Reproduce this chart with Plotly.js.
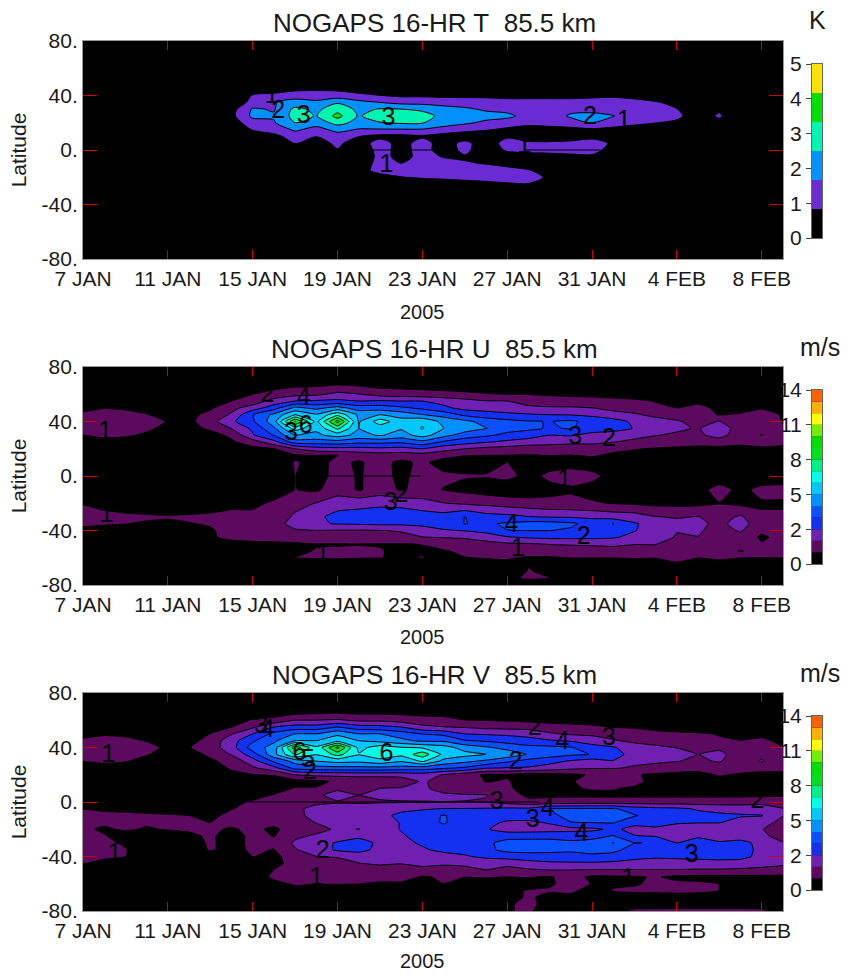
<!DOCTYPE html>
<html>
<head>
<meta charset="utf-8">
<script src="https://cdn.plot.ly/plotly-3.0.1.min.js"></script>
<style>html,body{margin:0;padding:0;background:#fff}</style>
</head>
<body>
<div id="chart" style="width:849px;height:974px"></div>
<script>
// Day of January for every column (32 = 1 Feb)
const days = [7,8,9,10,11,12,13, 14,15,16,17,18,19,20, 21,22,23,24,25,26,27, 28,29,30,31,32,33,34, 35,36,37,38,39,40];
const dayTicks = [7,11,15,19,23,27,31,35,39];
const dayLabels = ['7 JAN','11 JAN','15 JAN','19 JAN','23 JAN','27 JAN','31 JAN','4 FEB','8 FEB'];
const latTicks = [-80,-40,0,40,80];
const latLabels = ['-80.','-40.','0.','40.','80.'];

const titleT = 'NOGAPS 16-HR T\u00A0\u00A085.5 km';
const titleU = 'NOGAPS 16-HR U\u00A0\u00A085.5 km';
const titleV = 'NOGAPS 16-HR V\u00A0\u00A085.5 km';

const coloursT = ['#000000','#6a2bd2','#0090ff','#00f5b0','#00e000','#ffe000'];
const coloursW = ['#000000','#5c0a5e','#7020b0','#1430f0','#0a50ff','#0090ff','#00c8ff','#00ffe8','#00f088','#00e020','#00e000','#70f000','#ffff00','#ffb000','#ff6000'];
const barTicksT = [0,1,2,3,4,5];
const barLabelsT = ['0','1','2','3','4','5'];
const barTicksW = [0,2.8,5.6,8.4,11.2,14];
const barLabelsW = ['0','2','5','8','11','14'];

// ---------- Temperature amplitude (K)
const latT = [80,50,45,40,35,30,25,20,15,10,5,0,-5,-10,-15,-20,-25,-30,-80];
const rowsT = [
[0,0,0,0,0,0,0, 0,0,0,0,0,0,0, 0,0,0,0,0,0,0, 0,0,0,0,0,0,0, 0,0,0,0,0,0],
[0,0,0,0,0,0,0, 0,0,0,0,0,0,0, 0,0,0,0,0,0,0, 0,0,0,0,0,0,0, 0,0,0,0,0,0],
[0,0,0,0,0,0,0, 0,.3,.5,.6,.7,.65,.5, .4,.3,.3,.2,.2,.2,.2, .2,.2,.2,.2,.2,.1,.1, 0,0,0,0,0,0],
[0,0,0,0,0,0,0, .1,.9,1,1.3,1.2,1.2,1, .85,.7,.7,.65,.65,.65,.6, .6,.6,.6,.65,.7,.55,.4, .2,0,0,0,0,0],
[0,0,0,0,0,0,0, .2,1.1,1.6,2,1.85,2.4,1.9, 1.65,1.4,1.4,1.3,1.25,1.2,1.1, 1.1,1.1,1.1,1.15,1.2,1.1,.9, .6,.2,0,0,0,0],
[0,0,0,0,0,0,0, .5,1.75,1.6,2.7,2.3,3,2.3, 2.55,2.5,2.3,2,1.8,1.55,1.35, 1.2,1.15,1.4,1.4,1.3,1.15,1.05, .85,.3,.7,0,0,0],
[0,0,0,0,0,0,0, .6,1.85,1.75,2.8,2.45,3.6,2.4, 3,3,2.9,2.2,2.05,1.95,1.9, 1.3,1.2,1.8,1.9,1.7,1.15,1.1, 1,.4,.95,0,0,0],
[0,0,0,0,0,0,0, .4,1.3,1.6,2.5,2,2.8,2.2, 2.45,2.6,2.55,2.1,1.8,1.5,1.2, 1,1.1,1.3,1.7,1.25,1,.85, .7,.3,.6,0,0,0],
[0,0,0,0,0,0,0, .1,.9,1.2,1.8,1.4,1.9,1.6, 1.6,1.6,1.6,1.3,1.1,.9,.7, .6,.6,.6,.7,.6,.5,.4, .2,0,0,0,0,0],
[0,0,0,0,0,0,0, 0,.3,.6,1.2,.85,1.3,.85, .6,.6,.7,.5,.3,.3,.7, .3,.3,.3,.6,.8,.2,0, 0,0,0,0,0,0],
[0,0,0,0,0,0,0, 0,0,.2,.9,.5,1,.4, 1.2,.5,1.2,.4,1.1,.3,1.2, 1,1,1.1,1.2,.7,0,0, 0,0,0,0,0,0],
[0,0,0,0,0,0,0, 0,0,0,.2,.1,.8,.1, 1.2,.5,1.2,.4,1.05,.3,.95, 1,1,1.1,1.2,.4,0,0, 0,0,0,0,0,0],
[0,0,0,0,0,0,0, 0,0,0,0,0,0,.1, 1.1,.6,1.05,.8,.75,.2,.4, .6,.65,.65,.65,.2,0,0, 0,0,0,0,0,0],
[0,0,0,0,0,0,0, 0,0,0,0,0,0,.2, 1.2,.85,1.2,1.1,.9,.8,.6, .4,.2,0,0,0,0,0, 0,0,0,0,0,0],
[0,0,0,0,0,0,0, 0,0,0,0,0,0,.4, 1.2,1.2,1.3,1.3,1.3,1.25,1.1, .9,.4,0,0,0,0,0, 0,0,0,0,0,0],
[0,0,0,0,0,0,0, 0,0,0,0,0,0,.1, .4,.8,.95,1.05,1.1,1.2,1.2, 1.15,.7,0,0,0,0,0, 0,0,0,0,0,0],
[0,0,0,0,0,0,0, 0,0,0,0,0,0,0, 0,.1,.2,.3,.5,.6,.75, .8,.3,0,0,0,0,0, 0,0,0,0,0,0],
[0,0,0,0,0,0,0, 0,0,0,0,0,0,0, 0,0,0,0,0,0,0, 0,0,0,0,0,0,0, 0,0,0,0,0,0],
[0,0,0,0,0,0,0, 0,0,0,0,0,0,0, 0,0,0,0,0,0,0, 0,0,0,0,0,0,0, 0,0,0,0,0,0]
];
const labelDaysT = [15.9,16.2,17.4,21.4,30.9,32.5,21.3,27.8];
const labelLatsT = [39.4,28.4,24.7,22.7,23.5,21,-11.2,2.7];
const labelTextT = ['1','2','3','3','2','1','1','1'];
const seamDaysT = [20.6,23.7,null,27.8,31.4];
const seamLatsT = [0,0,null,0,0];

// ---------- Zonal wind amplitude (m/s)
const latU = [80,70,60,55,50,45,40,35,30,25,20,15,10,0,-10,-20,-30,-35,-40,-45,-50,-55,-60,-70,-75,-80];
const rowsU = [
[0,0,0,0,0,0,0, 0,0,0,0,0,0,0, 0,0,0,0,0,0,0, 0,0,0,0,0,0,0, 0,0,0,0,0,0],
[0,0,0,0,0,0,0, .1,.2,.2,.3,.35,.4,.3, .2,.2,.2,.2,.2,.1,.1, .1,.1,.1,.1,.1,.1,.1, .1,.1,.1,.1,.1,.1],
[0,0,0,0,0,0,0, .6,.93,1.3,1.6,1.7,2.1,1.9, 1.5,1.4,1.3,1.2,1.1,1,.93, .9,.8,.7,.7,.6,.5,.3, .2,.2,.2,.2,.2,.2],
[0,0,0,0,0,0,.5, .93,1.3,2.2,2.8,2.9,3,2.8, 2.9,2.8,2.8,2.5,2.2,1.9,1.87, 1.6,1.45,1.4,1.3,1.2,1.1,.9, .7,.8,.6,.5,.5,.4],
[.7,.9,.8,.4,.1,.3,.8, 1.6,2.3,3.3,4.9,4.4,5,4.2, 4.2,3.9,3.5,3,2.5,2.4,2.3, 2,1.95,1.95,1.87,1.6,1.4,1.1, .93,1.1,.8,.7,.9,.5],
[1.1,1.25,1.25,1,.5,.7,1.2, 2,3.7,4.9,6.5,5.7,7.2,5.4, 5.6,5.2,4.7,4.3,3.5,3.2,3, 2.9,2.8,2.75,2.6,2.2,2,1.6, 1.5,1.2,.9,1,1.1,.9],
[1.1,1.25,1.3,1.2,.9,.7,1.5, 2.6,3.6,5.2,9.4,6.2,9.7,5.5, 7,6,6.4,5.3,4.9,4.3,4, 3.8,3.7,3.9,3.4,3.2,2.6,2.3, 1.95,1.6,1.9,1.3,1.3,.9],
[1.1,1.3,1.3,1.1,.7,.6,1.1, 1.9,3,4.5,7,5.8,7.7,5.6, 6,5.7,6.6,5.6,5.2,4.7,4.1, 3.9,3.65,3.8,3.3,3.2,2.75,2.3, 2,1.8,2.4,1.4,1.3,1],
[.93,1.1,1.05,.8,.4,.4,.6, 1.1,2.7,3.8,5.6,5.4,6,5.3, 5.7,5.2,6,5,4.2,3.9,3.5, 3.3,2.8,2.9,2.5,2.3,2.15,1.9, 1.75,1.7,2.2,1.3,1.9,1.2],
[.5,.7,.6,.4,.3,.3,.4, .8,1.4,2.5,4.2,4.2,4.3,4, 4,3.9,4.4,3.6,3.2,2.9,2.6, 2.3,2.2,2.1,2.1,1.9,1.65,1.5, 1.3,1.2,1.4,1.1,1.3,1.1],
[.2,.2,.2,.2,.2,.2,.2, .4,.7,.9,1.87,2.4,2.5,2.5, 2.6,2.5,2.8,2.2,1.87,1.6,1.5, 1.4,1.4,1.3,1.3,1.1,1,.85, .8,.75,.7,.75,.8,.8],
[.1,.1,.1,.1,.1,.1,.1, .2,.3,.4,.8,.9,.93,1.2, 1.4,1.3,1.4,1.2,.95,.9,.9, .85,.93,.9,1,.8,.6,.5, .5,.5,.5,.5,.5,.5],
[0,0,0,0,0,0,0, 0,.1,.3,1,.7,1.1,.85, 1.2,.75,1.1,.6,.6,.6,.95, .5,.6,.7,.6,.4,.2,.1, .1,.1,.1,.1,.1,.1],
[.2,.2,.2,.2,.2,.2,.2, .2,.2,.3,.95,.5,1.3,.85, 1.3,.7,1.3,1.1,1,1,1.15, .7,1.1,1.2,1.1,.7,.3,.2, .2,.2,.1,.2,.1,.3],
[.4,.3,.2,.2,.2,.2,.2, .3,.3,.4,.95,.8,1.4,.85, 1.3,.85,1.2,.9,.7,.5,.4, .4,.7,.85,.7,.4,.3,.3, .4,.5,1.4,.6,1.3,1.3],
[.9,.7,.5,.4,.4,.4,.5, .7,.7,1.1,1.6,1.9,2.4,2.5, 2.6,2.5,2.2,1.9,1.7,1.6,1.4, 1.3,1.15,1.1,1,.9,.8,.7, .7,.7,.9,.7,.8,.8],
[1.2,1.15,1.1,1.05,1,1.05,1.1, 1.2,1.2,1.4,2,2.6,3.1,3.2, 3.3,3.4,3.3,3.2,3.75,3.2,3.1, 2.85,2.75,2.7,2.6,2.4,2.3,1.9, 1.8,1.9,1.5,2,1.1,1.1],
[1.05,1,.95,.85,.8,.9,1, 1.3,1.4,1.6,2.1,2.7,2.85,2.9, 3,3,3.2,3.3,3.75,3.6,3.85, 4.1,4.1,3.9,3.4,3.75,2.9,2.4, 2.1,2.1,1.6,2.3,1.2,1.2],
[.8,.7,.6,.5,.5,.7,.85, 1.2,1.3,1.5,1.8,1.85,1.8,1.8, 1.85,1.9,2.1,2.7,2.85,3.15,3.72, 3.75,3.75,3.6,3.3,3.3,2.85,2.3, 1.9,1.95,1.6,1.95,1.1,1.1],
[.4,.4,.4,.4,.5,.6,.85, 1.1,1.2,1.3,1.5,1.6,1.6,1.7, 1.7,1.75,1.85,1.9,1.95,2.2,2.7, 2.9,3,3,3,2.9,2.5,2.2, 1.8,1.85,1.6,1.5,.8,1.2],
[.3,.3,.3,.3,.3,.35,.4, .7,.75,.75,.8,.9,.9,.92, .9,.9,.95,1.3,1.5,1.6,1.7, 1.75,1.9,1.95,2,2.05,1.9,1.9, 1.3,1.75,1.4,1.2,1,1.2],
[.1,.1,.1,.1,.1,.1,.1, .2,.4,.7,.8,.97,1,1, .97,.8,.85,.85,1.15,1.3,1.35, 1.35,1.4,1.4,1.45,1.5,1.45,1.5, 1.15,1.3,1.3,1.95,1.3,1.3],
[0,0,0,0,0,0,0, .1,.2,.94,.95,1,1,.97, .95,.85,.97,.6,.9,1,1, .85,.85,.95,.95,.95,1,.97, .95,.95,1.1,.95,.93,.95],
[0,0,0,0,0,0,0, 0,0,.1,0,0,0,0, 0,0,0,0,0,0,.5, .97,.8,0,0,0,0,0, .9,0,0,0,0,0],
[.1,.1,.1,.1,.1,.1,.1, .1,.1,.95,.1,.1,.1,.1, .1,.1,.1,.1,.1,.1,.7, 1.1,.95,.4,.1,.1,.98,.1, .97,.1,.1,.1,.1,.1],
[0,0,0,0,0,0,0, 0,0,0,0,0,0,0, 0,0,0,0,0,0,0, 0,0,0,0,0,0,0, 0,0,0,0,0,0]
];
const labelDaysU = [8.05,15.7,17.4,16.8,17.5,30.2,31.8,21.5,22,27.2,30.6,8.1,18.3,27.5,29.7];
const labelLatsU = [31.8,58.7,56.7,31.3,35.9,28.1,26.4,-20,-14.7,-36.7,-45.2,-29.3,-58.7,-53.8,-3.7];
const labelTextU = ['1','2','4','3','6','3','2','3','2','4','2','1','1','1','1'];
const seamDaysU = [18.5,22.9];
const seamLatsU = [0,0];

// ---------- Meridional wind amplitude (m/s)
const latV = [80,75,70,65,60,55,50,45,40,35,30,25,20,15,10,5,0,-5,-10,-15,-20,-25,-30,-35,-40,-45,-50,-55,-60,-65,-70,-75,-80];
const rowsV = [
[0,0,0,0,0,0,0, 0,0,0,0,0,0,0, 0,0,0,0,0,0,0, 0,0,0,0,0,0,0, 0,0,0,0,0,0],
[0,0,0,0,0,0,0, 0,0,0,0,0,0,0, 0,0,0,0,0,0,0, 0,0,0,0,0,0,0, 0,0,0,0,0,0],
[0,0,0,0,0,0,0, 0,.1,.1,.2,.3,.4,.3, .2,.2,.2,.2,.1,.1,.1, 0,0,0,0,0,0,0, 0,0,0,0,0,0],
[0,0,0,0,0,0,0, .2,.5,.6,.8,.9,.97,.85, .85,.8,.7,.7,.6,.6,.5, .5,.4,.3,.3,.3,.2,.2, .2,.1,.1,.1,.1,.1],
[0,0,0,0,0,0,0, .6,1,1.2,1.87,1.87,2,1.7, 1.7,1.5,1.3,1.2,.95,.9,.85, .75,.65,.6,.55,.5,.45,.4, .3,.3,.3,.3,.3,.3],
[0,0,0,0,0,.1,.5, .93,1.7,2.8,3.2,3.2,3.73,3.2, 3.1,2.8,2.1,1.9,1.8,1.6,1.55, 1.5,1.3,1.2,1.1,.9,.85,.75, .65,.6,.5,.4,.4,.3],
[.7,.85,.8,.5,.3,.5,.95, 1.8,2.8,4,4.67,4.67,5.4,4.67, 4.67,4.2,3.7,3.5,2.8,2.7,2.6, 2.5,2,1.75,1.7,1.5,1.35,1.1, 1.05,1,.9,.7,.85,.6],
[1.05,1.2,1.1,.9,.5,.6,1.3, 2.4,3.6,4.5,5.6,5.6,6.2,5.6, 5.3,4.9,4.5,4.5,3.8,3.6,3.4, 3.1,2.9,2.7,2.3,1.95,1.7,1.6, 1.4,1.3,1,.95,1,.85],
[1.15,1.35,1.3,1.15,.8,.9,1.4, 2.4,4.2,5,9,6.7,9.6,6.2, 7,6.6,6.4,6,5.2,4.8,4.3, 4,3.95,3.8,3.2,2.9,2.2,2, 1.85,1.85,1.7,1.1,1.2,.95],
[1.05,1.25,1.2,1,.6,.6,1.1, 1.95,3.3,5.3,7.6,6.6,7.8,6.6, 7.2,6.8,8,6.3,5.9,5.6,5.3, 4.6,4.2,3.9,3.7,3.2,2.4,2, 2.1,1.85,2.1,1.4,1.7,1.1],
[.95,1.1,1,.6,.3,.3,.8, 1.2,2.4,3.9,5,5.6,5.9,5.8, 6.2,5.7,6.7,5.3,4.9,4.5,3.9, 3.4,3.1,2.7,2.4,2.75,2.1,2, 1.9,1.7,1.95,1.3,1.95,1.05],
[.5,.6,.5,.3,.2,.2,.5, 1.05,1.7,2.5,4.1,4.3,4.4,4.4, 4.4,4.3,4.2,3.9,3.6,2.9,2.75, 2.7,2.4,2.1,1.95,1.95,1.75,1.6, 1.35,1.2,1.4,1.2,1.1,1.05],
[.1,.1,.1,.1,.1,.1,.2, .7,.9,1,1.87,2.1,2.1,2.2, 2.2,2.2,2.4,1.8,1.3,.8,.85, .5,.6,.8,1,1.05,1,.8, .7,.7,1,.85,.8,.85],
[0,0,0,0,0,0,.1, .4,.4,.5,.6,.7,1.1,1.1, 1.1,1.3,2,1.5,1.35,.9,1, .6,.5,.85,1.3,1.35,1.2,.6, .5,.5,.7,.5,.6,.6],
[0,0,0,0,0,0,0, 0,.2,.5,1,1,1.7,1.4, 1.87,1.95,2.1,1.4,1.3,1.3,1.1, .5,.4,.85,1,1,.8,.5, .4,.4,.4,.4,.4,.4],
[0,0,0,0,0,0,.1, .2,.6,1,1.4,1.7,2.2,1.87, 2,2.2,2.3,2.1,1.95,1.9,1.4, .75,.75,.75,.75,.75,.75,.75, .75,.75,.75,.75,.75,.8],
[.1,.2,.2,.2,.2,.2,.2, .7,1.05,1.3,1.5,1.7,1.8,1.75, 1.8,1.8,1.8,1.85,1.85,1.8,1.5, 1.2,1.3,1.4,1.4,1.4,1.4,1.4, 1.4,1.4,1.4,1.45,1.6,1.5],
[.93,.8,.7,.6,.5,.4,.3, .9,1.2,1.4,1.7,2.1,2.2,2.3, 2.3,2.6,2.7,2.85,2.85,2.9,3, 3,3.75,3.8,3.85,3.85,3.3,3.1, 3,2.7,2.5,2.4,2.3,1.9],
[1.1,1.15,1.15,1.1,1.05,.95,.7, 1.2,1.3,1.5,1.75,2,2.1,2.3, 2.55,3,3.3,3.8,3.3,3.2,3.3, 3.3,3.6,3.9,4.1,4.2,3.8,3.4, 3.2,3.1,3,2.9,2.85,1.9],
[1.05,1.1,1.05,1.05,1,.98,.93, 1.15,1.15,1.15,1.5,1.9,2,2.2, 2.4,2.85,3.2,3.85,3.1,3.1,2.65, 2.6,2.9,3.72,3.75,3.8,3.1,3, 2.9,2.85,2.85,2.4,2.2,1.6],
[1.1,.8,1.05,.85,1,1.1,1.05, .85,1.1,.8,1.3,1.6,2,1.85, 2.3,2.85,3.2,3.3,3,2.9,2.3, 2.3,2.4,2.5,2.6,3,2.5,2.7, 2.4,2.2,2.1,2,1.9,1.5],
[1.2,1,.5,.4,.4,.7,1.1, .5,1.2,.9,1.7,2,2.2,2.5, 2.6,2.7,3.1,3.1,3.2,3.1,3.5, 3.5,3.5,3.4,3.4,3.8,2.85,2.75, 2.5,2.7,2.6,2.5,2.2,1.3],
[1.3,1.15,.8,.4,.3,.4,1.1, .5,1.2,1.2,2,2.4,2.9,3.4, 2.5,2.6,2.9,3.4,3.5,3.6,3.95, 4,4,3.9,4.1,4.7,3.75,3.7, 2.8,3.1,2.85,3,2.6,1.95],
[1.4,1.25,1,.3,.2,.2,1.05, .6,1.1,.9,1.8,2.3,2.95,3.2, 2.45,2.6,2.7,3,3.1,3.5,4, 4,3.9,3.85,3.95,3.95,3.4,3, 3.05,3.2,3.2,3.1,2.6,2.1],
[1.25,1.15,.95,.2,.1,.1,.3, .5,.95,.8,1.2,1.85,1.95,2.1, 2.2,2.3,2.2,2.5,2.7,3,3.2, 3.4,3.5,3.5,3.6,3.4,3,2.9, 2.95,3,3.1,3.1,2.5,2.2],
[1,.6,.3,.1,.1,.1,.1, .3,.5,.8,1.1,1.3,1.5,1.85, 2,1.9,2.1,2,2.05,2.2,2.1, 2.4,2.6,2.65,2.65,2.6,2.55,2.5, 2.5,2.5,2.5,2.4,2.1,2],
[.3,.1,.1,.1,.1,.1,.1, .1,.4,.95,1.15,1.3,1.4,1.5, 1.45,1.5,1.6,1.5,1.6,1.85,1.6, 1.75,1.85,1.85,1.8,1.8,1.8,1.8, 1.8,1.75,1.75,1.7,1.7,1.6],
[0,0,0,0,0,0,0, .1,.5,1.1,1.35,1.3,1.3,1.3, 1.3,1.3,.85,1.05,.95,1,.93, 1,.85,1.3,.75,.8,.85,1, .75,.7,.7,.7,.7,.7],
[0,0,0,0,0,0,0, 0,.1,.7,1.05,.97,1,.95, .8,.8,.4,.93,.6,.6,.5, .5,.8,1.3,.9,.8,.85,1.1, 1.1,1.05,.93,.4,.3,.3],
[0,0,0,0,0,0,0, 0,0,.1,.6,.4,.3,.3, .2,.2,.1,.1,.1,.1,.7, 1,1.05,1.2,.4,1,1.1,1.15, 1.2,1.15,.93,.3,.2,.2],
[0,0,0,0,0,0,0, 0,0,0,0,0,0,0, 0,0,0,0,0,0,.5, 1.1,.6,.6,.3,.5,.5,.5, .5,.5,.4,.2,.1,.1],
[0,0,0,0,0,0,0, 0,0,0,0,0,0,0, 0,0,0,0,0,0,.85, 1.1,.7,.3,.2,.3,.5,.5, .5,.5,.5,.5,.5,.4],
[0,0,0,0,0,0,0, 0,0,0,0,0,0,0, 0,0,0,0,0,0,.9, 1,.7,.2,.2,.7,1.1,1.15, 1.2,1.2,1.2,1.2,1.1,.6]
];
const labelDaysV = [8.2,15.4,15.7,17.2,17.6,17.7,21.3,28.3,29.6,31.8,27.4,26.5,38.8,28.9,28.2,30.5,18.3,35.7,8.5,18,32.7];
const labelLatsV = [33.6,55.6,52.5,35.3,30.4,21.3,34.8,53.9,43.4,46.3,28.7,-0.7,0.5,-5.6,-13.5,-24,-36.8,-39.2,-38.7,-56.4,-57];
const labelTextV = ['1','3','4','6','5','2','6','2','4','3','2','3','2','4','3','4','2','3','1','1','1'];
const seamDaysV = [14.8,28.5];
const seamLatsV = [0,0];

// ---------- Page geometry in pixels
const W = 849, H = 974;
const xd = (a,b) => [a/W, b/W];
const yd = (a,b) => [1-b/H, 1-a/H];
const FONT = '"Liberation Sans", Arial, sans-serif';
const INK = '#1a1a1a';

const panels = [
  {lat:latT, rows:rowsT, colours:coloursT, top:5, smooth:.8, barTicks:barTicksT, barLabels:barLabelsT, title:titleT, unit:'K', ld:labelDaysT, ll:labelLatsT, lt:labelTextT, sd:seamDaysT, sl:seamLatsT, y0:41, b0:64, yearY:312},
  {lat:latU, rows:rowsU, colours:coloursW, top:14, smooth:.4, barTicks:barTicksW, barLabels:barLabelsW, title:titleU, unit:'m/s', ld:labelDaysU, ll:labelLatsU, lt:labelTextU, sd:seamDaysU, sl:seamLatsU, y0:367, b0:390, yearY:637},
  {lat:latV, rows:rowsV, colours:coloursW, top:14, smooth:.4, barTicks:barTicksW, barLabels:barLabelsW, title:titleV, unit:'m/s', ld:labelDaysV, ll:labelLatsV, lt:labelTextV, sd:seamDaysV, sl:seamLatsV, y0:693, b0:716, yearY:961}
];

const traces = [];
const layout = {
  width:W, height:H, autosize:false, showlegend:false, barmode:'overlay',
  margin:{l:0,r:0,t:0,b:0}, paper_bgcolor:'#fff', plot_bgcolor:'#000',
  font:{family:FONT,color:INK}, annotations:[]
};

panels.forEach((p,i) => {
  const n = p.colours.length;
  const step = p.top/n;
  const ax = i===0 ? '' : String(i+1);
  const bx = String(i+4);
  traces.push({
    type:'contour', x:days, y:p.lat.slice().reverse(), z:p.rows.slice().reverse(),
    xaxis:'x'+ax, yaxis:'y'+ax, autocontour:false, showscale:false,
    contours:{start:step, end:(n-1)*step+step*0.01, size:step, coloring:'fill', showlines:true},
    line:{color:'#000',width:1,smoothing:p.smooth},
    colorscale:p.colours.map((c,k)=>[k/(n-1),c]), hoverinfo:'skip'
  });
  traces.push({type:'scatter',mode:'lines',x:p.sd,y:p.sl,xaxis:'x'+ax,yaxis:'y'+ax,line:{color:'#000',width:1},hoverinfo:'skip'});
  traces.push({type:'scatter',mode:'text',x:p.ld,y:p.ll,text:p.lt,textposition:'middle center',
    textfont:{family:FONT,size:25,color:'#000'},xaxis:'x'+ax,yaxis:'y'+ax,hoverinfo:'skip',cliponaxis:false});
  traces.push({
    type:'bar', x:p.colours.map(()=>0), y:p.colours.map(()=>step), base:p.colours.map((c,k)=>k*step),
    width:1, marker:{color:p.colours,line:{width:0}}, xaxis:'x'+bx, yaxis:'y'+bx, hoverinfo:'skip'
  });
  layout['xaxis'+ax] = {
    domain:xd(83,783), range:[7,40], anchor:'y'+ax, tickmode:'array', tickvals:dayTicks, ticktext:dayLabels,
    ticks:'inside', ticklen:9, tickwidth:1, tickcolor:'#d00000', mirror:'ticks', showline:true, linecolor:'#999', linewidth:1,
    showgrid:false, zeroline:false, tickfont:{family:FONT,size:21,color:INK}, ticklabelstandoff:1
  };
  layout['yaxis'+ax] = {
    domain:yd(p.y0,p.y0+218), range:[-80,80], anchor:'x'+ax, tickmode:'array', tickvals:latTicks, ticktext:latLabels,
    ticks:'inside', ticklen:14, tickwidth:1, tickcolor:'#d00000', mirror:'ticks', showline:true, linecolor:'#999', linewidth:1,
    showgrid:false, zeroline:false, tickfont:{family:FONT,size:21,color:INK},
    title:{text:'Latitude',font:{family:FONT,size:21,color:INK},standoff:9}
  };
  layout['xaxis'+bx] = {domain:xd(812,822), range:[-.5,.5], anchor:'y'+bx, showticklabels:false, ticks:'', showgrid:false, zeroline:false, showline:true, mirror:true, linecolor:'#666', linewidth:1};
  layout['yaxis'+bx] = {domain:yd(p.b0,p.b0+174), range:[0,p.top], anchor:'x'+bx, side:'left', tickmode:'array', tickvals:p.barTicks, ticktext:p.barLabels,
    ticks:'outside', ticklen:5, tickwidth:1, tickcolor:'#444', showgrid:false, zeroline:false, showline:true, mirror:true, linecolor:'#666', linewidth:1,
    tickfont:{family:FONT,size:21,color:INK}};
  layout.annotations.push({text:p.title,xref:'paper',yref:'paper',x:434/W,y:1-(p.y0-18)/H,xanchor:'center',yanchor:'middle',showarrow:false,font:{family:FONT,size:26,color:INK}});
  layout.annotations.push({text:p.unit,xref:'paper',yref:'paper',x:(i===0?817:820)/W,y:1-(p.y0-(i===0?21:20))/H,xanchor:'center',yanchor:'middle',showarrow:false,font:{family:FONT,size:25,color:INK}});
  layout.annotations.push({text:'2005',xref:'x'+ax,yref:'paper',x:23,y:1-p.yearY/H,xanchor:'center',yanchor:'middle',showarrow:false,font:{family:FONT,size:20,color:INK}});
});

Plotly.newPlot('chart',traces,layout,{displayModeBar:false,staticPlot:true});
</script>
</body>
</html>
